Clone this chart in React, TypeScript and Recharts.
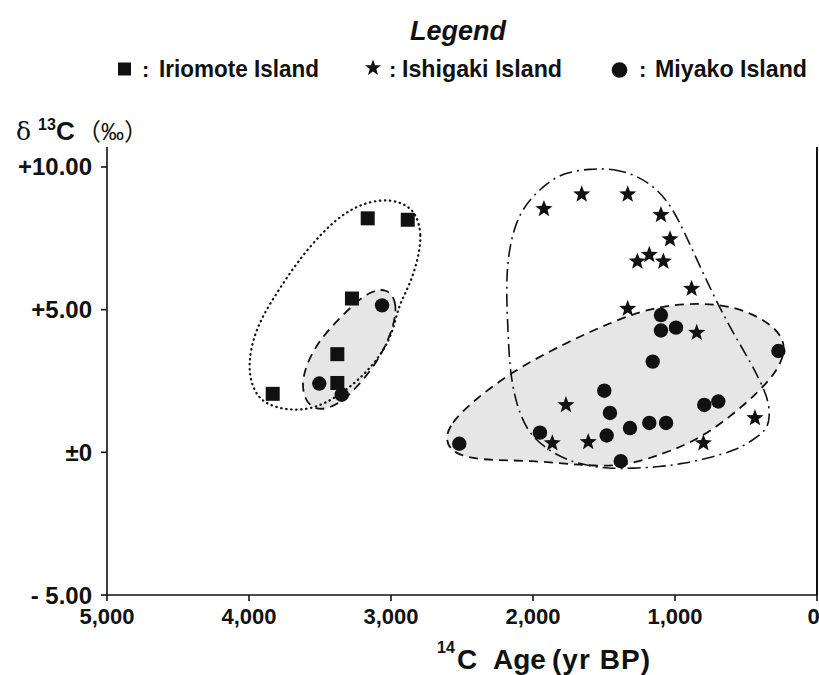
import React from 'react';
import { ScatterChart, Scatter, XAxis, YAxis, Legend, ReferenceLine } from 'recharts';

// ---------- tick labels / categories ----------
const xTicks = [5000, 4000, 3000, 2000, 1000, 0];
const yTicks = [-5, 0, 5, 10];
const seriesNames = ['Iriomote Island', 'Ishigaki Island', 'Miyako Island'];

// ---------- series values: 14C age (yr BP), δ13C (‰) ----------
const iriomote = [
  { age: 3833, d13c: 2.05 },
  { age: 3378, d13c: 2.43 },
  { age: 3378, d13c: 3.44 },
  { age: 3275, d13c: 5.39 },
  { age: 3164, d13c: 8.2 },
  { age: 2882, d13c: 8.15 },
];

const ishigaki = [
  { age: 1923, d13c: 8.53 },
  { age: 1657, d13c: 9.04 },
  { age: 1333, d13c: 9.04 },
  { age: 1099, d13c: 8.32 },
  { age: 1035, d13c: 7.47 },
  { age: 1265, d13c: 6.69 },
  { age: 1181, d13c: 6.92 },
  { age: 1082, d13c: 6.69 },
  { age: 883, d13c: 5.73 },
  { age: 1333, d13c: 5.03 },
  { age: 847, d13c: 4.19 },
  { age: 1768, d13c: 1.66 },
  { age: 1864, d13c: 0.32 },
  { age: 1611, d13c: 0.36 },
  { age: 800, d13c: 0.32 },
  { age: 437, d13c: 1.2 },
];

const miyako = [
  { age: 3505, d13c: 2.41 },
  { age: 3347, d13c: 2.02 },
  { age: 3063, d13c: 5.15 },
  { age: 1099, d13c: 4.81 },
  { age: 1099, d13c: 4.27 },
  { age: 993, d13c: 4.37 },
  { age: 1157, d13c: 3.18 },
  { age: 272, d13c: 3.55 },
  { age: 1498, d13c: 2.16 },
  { age: 1458, d13c: 1.38 },
  { age: 1481, d13c: 0.59 },
  { age: 1317, d13c: 0.85 },
  { age: 1181, d13c: 1.03 },
  { age: 1063, d13c: 1.03 },
  { age: 794, d13c: 1.66 },
  { age: 695, d13c: 1.78 },
  { age: 1951, d13c: 0.69 },
  { age: 2519, d13c: 0.3 },
  { age: 1382, d13c: -0.31 },
];

// ---------- hand-drawn enclosures (outline vertices) ----------
const iriomoteOutline = [
  { age: 2819, d13c: 8.32 }, { age: 2784, d13c: 7.62 }, { age: 2808, d13c: 6.8 },
  { age: 2866, d13c: 5.88 }, { age: 2949, d13c: 5.12 }, { age: 2984, d13c: 4.25 },
  { age: 3065, d13c: 3.44 }, { age: 3206, d13c: 2.62 }, { age: 3382, d13c: 1.93 },
  { age: 3547, d13c: 1.52 }, { age: 3723, d13c: 1.46 }, { age: 3899, d13c: 1.7 },
  { age: 3981, d13c: 2.28 }, { age: 4005, d13c: 3.09 }, { age: 3970, d13c: 4.02 },
  { age: 3899, d13c: 4.83 }, { age: 3782, d13c: 5.76 }, { age: 3641, d13c: 6.8 },
  { age: 3477, d13c: 7.74 }, { age: 3336, d13c: 8.37 }, { age: 3171, d13c: 8.78 },
  { age: 3007, d13c: 8.87 }, { age: 2889, d13c: 8.67 },
];

const miyakoWestOutline = [
  { age: 3030, d13c: 5.76 }, { age: 2960, d13c: 5.3 }, { age: 2972, d13c: 4.6 },
  { age: 3030, d13c: 3.79 }, { age: 3125, d13c: 2.97 }, { age: 3242, d13c: 2.28 },
  { age: 3359, d13c: 1.7 }, { age: 3500, d13c: 1.44 }, { age: 3594, d13c: 1.7 },
  { age: 3629, d13c: 2.28 }, { age: 3606, d13c: 2.97 }, { age: 3523, d13c: 3.79 },
  { age: 3406, d13c: 4.48 }, { age: 3265, d13c: 5.18 }, { age: 3148, d13c: 5.64 },
];

const miyakoEastOutline = [
  { age: 2620, d13c: 0.42 }, { age: 2585, d13c: 1.0 }, { age: 2420, d13c: 1.81 },
  { age: 2139, d13c: 2.86 }, { age: 1787, d13c: 3.79 }, { age: 1435, d13c: 4.6 },
  { age: 1129, d13c: 5.12 }, { age: 847, d13c: 5.24 }, { age: 565, d13c: 5.12 },
  { age: 308, d13c: 4.48 }, { age: 213, d13c: 3.79 }, { age: 261, d13c: 2.97 },
  { age: 401, d13c: 2.16 }, { age: 613, d13c: 1.23 }, { age: 847, d13c: 0.42 },
  { age: 1082, d13c: -0.05 }, { age: 1364, d13c: -0.51 }, { age: 1669, d13c: -0.45 },
  { age: 2021, d13c: -0.28 }, { age: 2373, d13c: -0.28 }, { age: 2561, d13c: -0.05 },
];

const ishigakiOutline = [
  { age: 1599, d13c: 9.94 }, { age: 1435, d13c: 9.94 }, { age: 1270, d13c: 9.71 },
  { age: 1129, d13c: 9.24 }, { age: 1012, d13c: 8.55 }, { age: 882, d13c: 7.15 },
  { age: 754, d13c: 5.76 }, { age: 625, d13c: 4.48 }, { age: 460, d13c: 3.09 },
  { age: 343, d13c: 1.93 }, { age: 331, d13c: 1.23 }, { age: 354, d13c: 0.77 },
  { age: 472, d13c: 0.36 }, { age: 577, d13c: 0.07 }, { age: 777, d13c: -0.22 },
  { age: 942, d13c: -0.39 }, { age: 1106, d13c: -0.51 }, { age: 1296, d13c: -0.56 },
  { age: 1481, d13c: -0.57 }, { age: 1622, d13c: -0.45 }, { age: 1716, d13c: -0.34 },
  { age: 1857, d13c: -0.05 }, { age: 2021, d13c: 0.59 }, { age: 2092, d13c: 1.35 },
  { age: 2127, d13c: 1.93 }, { age: 2162, d13c: 2.86 }, { age: 2174, d13c: 4.02 },
  { age: 2190, d13c: 5.76 }, { age: 2174, d13c: 7.04 }, { age: 2104, d13c: 8.43 },
  { age: 1927, d13c: 9.36 }, { age: 1787, d13c: 9.8 },
];

// ---------- styling ----------
const SANS = "'Liberation Sans', Arial, 'Noto Sans CJK JP', sans-serif";
const CJK = "'Noto Sans CJK JP', 'Noto Sans CJK SC', sans-serif";
const INK = '#111';
const SHADE = '#e6e6e6';

const starPoints = (cx: number, cy: number, R: number, r: number) => {
  const pts: string[] = [];
  for (let i = 0; i < 10; i++) {
    const rad = i % 2 === 0 ? R : r;
    const a = -Math.PI / 2 + (i * Math.PI) / 5;
    pts.push(`${cx + rad * Math.cos(a)},${cy + rad * Math.sin(a)}`);
  }
  return pts.join(' ');
};

const SquareShape = (p: any) => (
  <rect x={p.cx - 7} y={p.cy - 7} width={14} height={14} fill={INK} />
);
const CircleShape = (p: any) => <circle cx={p.cx} cy={p.cy} r={7.2} fill={INK} />;
const StarShape = (p: any) => <polygon points={starPoints(p.cx, p.cy, 9, 3.8)} fill={INK} />;
const NoShape = () => <g />;

const xFmt = (v: number) => (v === 0 ? '0' : v.toLocaleString('en-US'));
const yFmt = (v: number) =>
  v > 0 ? `+${v.toFixed(2)}` : v === 0 ? '±0' : `- ${Math.abs(v).toFixed(2)}`;

const legendLayout = [
  { sym: 124.5, colon: 142, text: 159, len: 160 },
  { sym: 373, colon: 389, text: 402, len: 160 },
  { sym: 619.5, colon: 639, text: 655, len: 152 },
];

const LegendContent = (props: any) => {
  const payload = (props.payload || []).filter((e: any) => e.type !== 'none');
  const names: string[] = payload.length ? payload.map((e: any) => e.value) : seriesNames;
  return (
    <svg width={819} height={147} style={{ display: 'block' }}>
      <text x={410} y={40} fontFamily={SANS} fontWeight="bold" fontStyle="italic" fontSize={28}
        textLength={96} lengthAdjust="spacingAndGlyphs" fill={INK}>Legend</text>
      {names.map((name, i) => {
        const L = legendLayout[i];
        if (!L) return null;
        const cy = 69;
        let sym = null;
        if (name === 'Iriomote Island') sym = <rect x={L.sym - 6.5} y={cy - 6.5} width={13} height={13} fill={INK} />;
        else if (name === 'Ishigaki Island') sym = <polygon points={starPoints(L.sym, cy - 1, 8.5, 3.5)} fill={INK} />;
        else sym = <circle cx={L.sym} cy={cy + 1} r={7.8} fill={INK} />;
        return (
          <g key={name}>
            {sym}
            <text x={L.colon} y={77} fontFamily={SANS} fontWeight="bold" fontSize={22} fill={INK}>:</text>
            <text x={L.text} y={77} fontFamily={SANS} fontWeight="bold" fontSize={24}
              textLength={L.len} lengthAdjust="spacingAndGlyphs" fill={INK}>{name}</text>
          </g>
        );
      })}
    </svg>
  );
};

const YTitle = (props: any) => {
  const vb = props.viewBox || { x: 0, y: 147 };
  const x = vb.x;
  const y = vb.y - 7;
  return (
    <text y={y} fill={INK} fontFamily={SANS}>
      <tspan x={x + 16} fontFamily="'DejaVu Serif', 'Liberation Serif', serif" fontSize={25}>δ</tspan>
      <tspan x={x + 38} dy={-10} fontSize={16} fontWeight="bold">13</tspan>
      <tspan x={x + 56} dy={10} fontSize={26} fontWeight="bold">C</tspan>
      <tspan x={x + 77} fontSize={24} fontFamily={CJK}>（</tspan>
      <tspan fontSize={23}>‰</tspan>
      <tspan fontSize={24} fontFamily={CJK}>）</tspan>
    </text>
  );
};

const XTitle = (props: any) => {
  const vb = props.viewBox || { x: 107, y: 595 };
  const x0 = vb.x;
  const y = vb.y + 74;
  return (
    <g fill={INK} fontFamily={SANS} fontWeight="bold">
      <text x={x0 + 330} y={y - 16} fontSize={16}>14</text>
      <text x={x0 + 350} y={y} fontSize={28}>C</text>
      <text x={x0 + 386} y={y} fontSize={28}>Age</text>
      <text x={x0 + 445} y={y} fontSize={28} textLength={98} lengthAdjust="spacing">(yr BP)</text>
    </g>
  );
};

const tickStyle = { fill: INK, fontSize: 22, fontWeight: 'bold', fontFamily: SANS };

export default function App() {
  return (
    <div style={{ position: 'absolute', left: 0, top: 0, background: '#fff' }}>
      <ScatterChart width={819} height={675} margin={{ top: 0, right: 2, bottom: 0, left: 0 }}>
        <Legend verticalAlign="top" align="left" content={<LegendContent />} />
        <XAxis
          type="number"
          dataKey="age"
          domain={[0, 5000]}
          reversed
          ticks={xTicks}
          tickFormatter={xFmt}
          allowDataOverflow
          height={80}
          stroke={INK}
          strokeWidth={1.6}
          tickSize={6}
          tickMargin={7}
          tick={tickStyle}
          label={(p: any) => <XTitle {...p} />}
        />
        <YAxis
          yAxisId="left"
          type="number"
          dataKey="d13c"
          domain={[-5, 10.7]}
          ticks={yTicks}
          tickFormatter={yFmt}
          allowDataOverflow
          width={107}
          stroke={INK}
          strokeWidth={1.6}
          tickSize={6}
          tickMargin={9}
          tick={{ ...tickStyle, fontSize: 24 }}
          label={(p: any) => <YTitle {...p} />}
        />

        <Scatter yAxisId="left" name="miyakoEastOutline" data={miyakoEastOutline} legendType="none"
          isAnimationActive={false} shape={NoShape} lineJointType="basisClosed"
          line={{ fill: SHADE, stroke: INK, strokeWidth: 1.8, strokeDasharray: '9 6' }} />
        <Scatter yAxisId="left" name="miyakoWestOutline" data={miyakoWestOutline} legendType="none"
          isAnimationActive={false} shape={NoShape} lineJointType="basisClosed"
          line={{ fill: SHADE, stroke: INK, strokeWidth: 1.8, strokeDasharray: '9 6' }} />
        <Scatter yAxisId="left" name="iriomoteOutline" data={iriomoteOutline} legendType="none"
          isAnimationActive={false} shape={NoShape} lineJointType="basisClosed"
          line={{ fill: 'none', stroke: INK, strokeWidth: 2.2, strokeDasharray: '0.5 4.5', strokeLinecap: 'round' }} />
        <Scatter yAxisId="left" name="ishigakiOutline" data={ishigakiOutline} legendType="none"
          isAnimationActive={false} shape={NoShape} lineJointType="basisClosed"
          line={{ fill: 'none', stroke: INK, strokeWidth: 1.6, strokeDasharray: '13 5 2 5' }} />

        <Scatter yAxisId="left" name="Iriomote Island" data={iriomote} fill={INK}
          isAnimationActive={false} shape={SquareShape} />
        <Scatter yAxisId="left" name="Ishigaki Island" data={ishigaki} fill={INK}
          isAnimationActive={false} shape={StarShape} />
        <Scatter yAxisId="left" name="Miyako Island" data={miyako} fill={INK}
          isAnimationActive={false} shape={CircleShape} />

        <ReferenceLine yAxisId="left" x={0} stroke={INK} strokeWidth={2} ifOverflow="visible" />
      </ScatterChart>
    </div>
  );
}
